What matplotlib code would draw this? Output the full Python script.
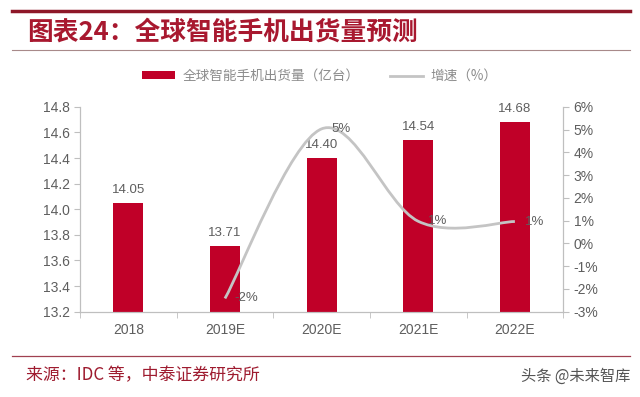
import matplotlib.pyplot as plt
from matplotlib.lines import Line2D
from matplotlib.patches import Patch, PathPatch
from matplotlib.path import Path

plt.rcParams['font.family'] = ['Noto Sans CJK SC', 'DejaVu Sans']

years = ['2018', '2019E', '2020E', '2021E', '2022E']
shipments = [14.05, 13.71, 14.40, 14.54, 14.68]   # 亿台
growth = [-2.42, 5.03, 0.97, 0.96]                 # %, 2019E-2022E
growth_years = [1, 2, 3, 4]

bar_color = '#C00028'
line_color = '#C4C4C4'
axis_color = '#BFBFBF'
text_color = '#5E5E5E'
dark_red = '#9E1B2F'

fig = plt.figure(figsize=(6.4, 3.97), dpi=100)
ax = fig.add_axes([0.125, 0.215, 0.755, 0.516])
ax2 = ax.twinx()

x = list(range(len(years)))
ax.bar(x, shipments, width=0.31, color=bar_color, zorder=2)
for xi, v in zip(x, shipments):
    ax.annotate(f'{v:.2f}', (xi, v), xytext=(0, 5), textcoords='offset points',
                ha='center', va='bottom', fontsize=9.5, color=text_color,
                family='Liberation Sans')

ax.set_xlim(-0.5, 4.5)
ax.set_ylim(13.2, 14.8)
ax.set_yticks([13.2 + 0.2 * i for i in range(9)])
ax.set_yticklabels([f'{13.2 + 0.2 * i:.1f}' for i in range(9)])
ax.set_xticks(x)
ax.set_xticklabels(years)
ax.set_xticks([i - 0.5 for i in range(6)], minor=True)
ax.tick_params(axis='x', which='major', length=0, pad=8)
ax.tick_params(axis='x', which='minor', length=4, color=axis_color)
ax.tick_params(axis='y', length=4, color=axis_color)

ax2.set_ylim(-3, 6)
ax2.set_yticks(range(-3, 7))
ax2.set_yticklabels([f'{t}%' for t in range(-3, 7)])
ax2.tick_params(axis='y', length=4, color=axis_color)

for a in (ax, ax2):
    a.spines['top'].set_visible(False)
    for s in ('left', 'right', 'bottom'):
        a.spines[s].set_color(axis_color)
    for lab in a.get_xticklabels() + a.get_yticklabels():
        lab.set_color(text_color)
        lab.set_fontsize(10)
        lab.set_family('Liberation Sans')

# smoothed growth line (Bezier through the data points)
pts = list(zip(growth_years, growth))
verts = [pts[0]]
codes = [Path.MOVETO]
n = len(pts)
for i in range(n - 1):
    p0 = pts[i - 1] if i > 0 else pts[i]
    p1 = pts[i]
    p2 = pts[i + 1]
    p3 = pts[i + 2] if i + 2 < n else pts[i + 1]
    c1 = (p1[0] + (p2[0] - p0[0]) / 6, p1[1] + (p2[1] - p0[1]) / 6)
    c2 = (p2[0] - (p3[0] - p1[0]) / 6, p2[1] - (p3[1] - p1[1]) / 6)
    verts += [c1, c2, p2]
    codes += [Path.CURVE4] * 3
ax2.add_patch(PathPatch(Path(verts, codes), facecolor='none', edgecolor=line_color,
                        lw=2.0, zorder=3))
for xi, v in zip(growth_years, growth):
    ax2.annotate(f'{v:.0f}%', (xi, v), xytext=(7, 0), textcoords='offset points',
                 ha='left', va='center', fontsize=9.5, color=text_color,
                 family='Liberation Sans')

handles = [Patch(facecolor=bar_color, edgecolor='none'),
           Line2D([0], [0], color=line_color, lw=2)]
leg = fig.legend(handles, ['全球智能手机出货量（亿台）', '增速（%）'], loc='center',
                 bbox_to_anchor=(0.5, 1 - 76 / 397), ncol=2, frameon=False,
                 fontsize=9.8, handlelength=2.4, handleheight=0.5, handletextpad=0.6,
                 columnspacing=2.2)
for t in leg.get_texts():
    t.set_color('#8C8C8C')

# header / footer
fig.add_artist(Line2D([12 / 640, 630 / 640], [1 - 11 / 397, 1 - 11 / 397],
                      color='#8E1728', lw=2.5))
fig.add_artist(Line2D([12 / 640, 630 / 640], [1 - 50 / 397, 1 - 50 / 397],
                      color='#A88A8A', lw=0.8))
fig.text(27 / 640, 1 - 32 / 397, '图表24：全球智能手机出货量预测', fontsize=18.5,
         fontweight='bold', color='#A8182F', ha='left', va='center')
fig.add_artist(Line2D([12 / 640, 630 / 640], [1 - 356 / 397, 1 - 356 / 397],
                      color='#A04050', lw=0.9))
fig.text(26 / 640, 1 - 375 / 397, '来源：IDC 等，中泰证券研究所', fontsize=12.2,
         color=dark_red, ha='left', va='center')
fig.text(630 / 640, 1 - 376 / 397, '头条 @未来智库', fontsize=11,
         color='#555555', ha='right', va='center')

fig.savefig('out.png', dpi=100)
